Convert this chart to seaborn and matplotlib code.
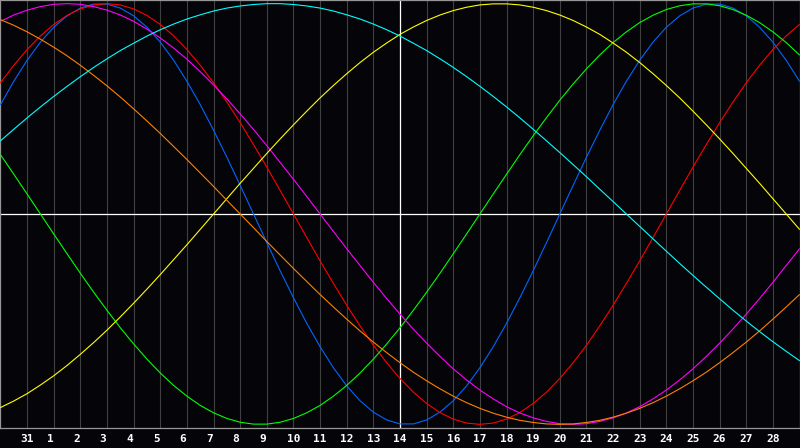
import pandas as pd
import matplotlib
matplotlib.use("Agg")
import matplotlib.pyplot as plt
import seaborn as sns

# dark theme like the original biorhythm screen
sns.set_style("dark", {"axes.facecolor": "#050409", "figure.facecolor": "#050409"})

# half-day steps along the x axis: 0 = left edge (day 30), 30 = right edge (day 29)
positions = [i / 2 for i in range(61)]
grid_days = list(range(1, 30))
day_labels = [31] + list(range(1, 29))
today = 15  # gridline of day 14

# cycle values, every half day
physical = [0.520, 0.631, 0.731, 0.817, 0.888, 0.942, 0.979, 0.998, 0.998, 0.979, 0.942,
            0.888, 0.817, 0.731, 0.631, 0.520, 0.398, 0.270, 0.136, 0.000, -0.136, -0.270,
            -0.398, -0.520, -0.631, -0.731, -0.817, -0.888, -0.942, -0.979, -0.998, -0.998,
            -0.979, -0.942, -0.888, -0.817, -0.731, -0.631, -0.520, -0.398, -0.270, -0.136,
            0.000, 0.136, 0.270, 0.398, 0.520, 0.631, 0.731, 0.817, 0.888, 0.942, 0.979,
            0.998, 0.998, 0.979, 0.942, 0.888, 0.817, 0.731, 0.631]
emotional = [0.624, 0.707, 0.782, 0.847, 0.901, 0.944, 0.975, 0.994, 1.000, 0.994, 0.975,
             0.944, 0.901, 0.847, 0.782, 0.707, 0.624, 0.532, 0.434, 0.330, 0.223, 0.112,
             0.000, -0.112, -0.223, -0.330, -0.434, -0.532, -0.624, -0.707, -0.782, -0.847,
             -0.901, -0.944, -0.975, -0.994, -1.000, -0.994, -0.975, -0.944, -0.901, -0.847,
             -0.782, -0.707, -0.624, -0.532, -0.434, -0.330, -0.223, -0.112, 0.000, 0.112,
             0.223, 0.330, 0.434, 0.532, 0.624, 0.707, 0.782, 0.847, 0.901]
intellectual = [0.282, 0.189, 0.095, 0.000, -0.095, -0.189, -0.282, -0.372, -0.458, -0.541,
                -0.618, -0.690, -0.756, -0.815, -0.866, -0.910, -0.945, -0.972, -0.990, -0.999,
                -0.999, -0.990, -0.972, -0.945, -0.910, -0.866, -0.815, -0.756, -0.690, -0.618,
                -0.541, -0.458, -0.372, -0.282, -0.189, -0.095, 0.000, 0.095, 0.189, 0.282,
                0.372, 0.458, 0.541, 0.618, 0.690, 0.756, 0.815, 0.866, 0.910, 0.945, 0.972,
                0.990, 0.999, 0.999, 0.990, 0.972, 0.945, 0.910, 0.866, 0.815, 0.756]
intuitive = [0.916, 0.946, 0.969, 0.986, 0.997, 1.000, 0.997, 0.986, 0.969, 0.946, 0.916,
             0.879, 0.837, 0.789, 0.736, 0.677, 0.614, 0.547, 0.476, 0.402, 0.325, 0.245,
             0.165, 0.083, 0.000, -0.083, -0.165, -0.245, -0.325, -0.402, -0.476, -0.547,
             -0.614, -0.677, -0.736, -0.789, -0.837, -0.879, -0.916, -0.946, -0.969, -0.986,
             -0.997, -1.000, -0.997, -0.986, -0.969, -0.946, -0.916, -0.879, -0.837, -0.789,
             -0.736, -0.677, -0.614, -0.547, -0.476, -0.402, -0.325, -0.245, -0.165]
aesthetic = [-0.920, -0.889, -0.854, -0.813, -0.769, -0.720, -0.667, -0.611, -0.552, -0.489,
             -0.424, -0.357, -0.288, -0.217, -0.146, -0.073, 0.000, 0.073, 0.146, 0.217,
             0.288, 0.357, 0.424, 0.489, 0.552, 0.611, 0.667, 0.720, 0.769, 0.813, 0.854,
             0.889, 0.920, 0.946, 0.967, 0.983, 0.994, 0.999, 0.999, 0.994, 0.983, 0.967,
             0.946, 0.920, 0.889, 0.854, 0.813, 0.769, 0.720, 0.667, 0.611, 0.552, 0.489,
             0.424, 0.357, 0.288, 0.217, 0.146, 0.073, 0.000, -0.073]
awareness = [0.924, 0.897, 0.866, 0.831, 0.793, 0.752, 0.707, 0.659, 0.609, 0.556, 0.500,
             0.442, 0.383, 0.321, 0.259, 0.195, 0.131, 0.065, 0.000, -0.065, -0.131, -0.195,
             -0.259, -0.321, -0.383, -0.442, -0.500, -0.556, -0.609, -0.659, -0.707, -0.752,
             -0.793, -0.831, -0.866, -0.897, -0.924, -0.947, -0.966, -0.981, -0.991, -0.998,
             -1.000, -0.998, -0.991, -0.981, -0.966, -0.947, -0.924, -0.897, -0.866, -0.831,
             -0.793, -0.752, -0.707, -0.659, -0.609, -0.556, -0.500, -0.442, -0.383]
spiritual = [0.348, 0.403, 0.457, 0.509, 0.559, 0.607, 0.653, 0.697, 0.738, 0.777, 0.812,
             0.846, 0.876, 0.903, 0.927, 0.947, 0.965, 0.979, 0.989, 0.996, 1.000, 1.000,
             0.996, 0.989, 0.979, 0.965, 0.947, 0.927, 0.903, 0.876, 0.846, 0.812, 0.777,
             0.738, 0.697, 0.653, 0.607, 0.559, 0.509, 0.457, 0.403, 0.348, 0.292, 0.235,
             0.177, 0.118, 0.059, 0.000, -0.059, -0.118, -0.177, -0.235, -0.292, -0.348,
             -0.403, -0.457, -0.509, -0.559, -0.607, -0.653, -0.697]

cycles = {
    "physical": physical, "emotional": emotional, "intellectual": intellectual,
    "intuitive": intuitive, "aesthetic": aesthetic, "awareness": awareness,
    "spiritual": spiritual,
}
colors = {
    "physical": "#0066ff", "emotional": "#ff0000", "intellectual": "#00ff00",
    "intuitive": "#ff00ff", "aesthetic": "#ffff00", "awareness": "#ff8000",
    "spiritual": "#00ffff",
}

df = pd.concat(
    [pd.DataFrame({"pos": positions, "value": vals, "cycle": name}) for name, vals in cycles.items()],
    ignore_index=True,
)

fig = plt.figure(figsize=(8, 4.48), dpi=100)
ax = fig.add_axes([0.0006, 20.5 / 448, 0.9988, 427 / 448])

# day grid
for d in grid_days:
    ax.axvline(d, color="#404040", lw=0.8, zorder=0)
ax.axvline(today, color="white", lw=0.9, zorder=1)
ax.axhline(0, color="white", lw=0.9, zorder=1)

sns.lineplot(data=df, x="pos", y="value", hue="cycle", palette=colors,
             legend=False, errorbar=None, lw=0.8, ax=ax, zorder=3)

ax.set_xlim(0, 30)
ax.set_ylim(-1.015, 1.015)
ax.set_xticks(grid_days)
ax.set_xticklabels([f"{d:<2d}" for d in day_labels],
                   family="DejaVu Sans Mono", fontweight="bold", fontsize=8, color="white")
ax.tick_params(axis="x", length=0, pad=5)
ax.set_yticks([])
ax.set_xlabel("")
ax.set_ylabel("")
for s in ax.spines.values():
    s.set_visible(True)
    s.set_color("#969696")
    s.set_linewidth(0.9)

plt.savefig("out.png", facecolor=fig.get_facecolor())
plt.close()
